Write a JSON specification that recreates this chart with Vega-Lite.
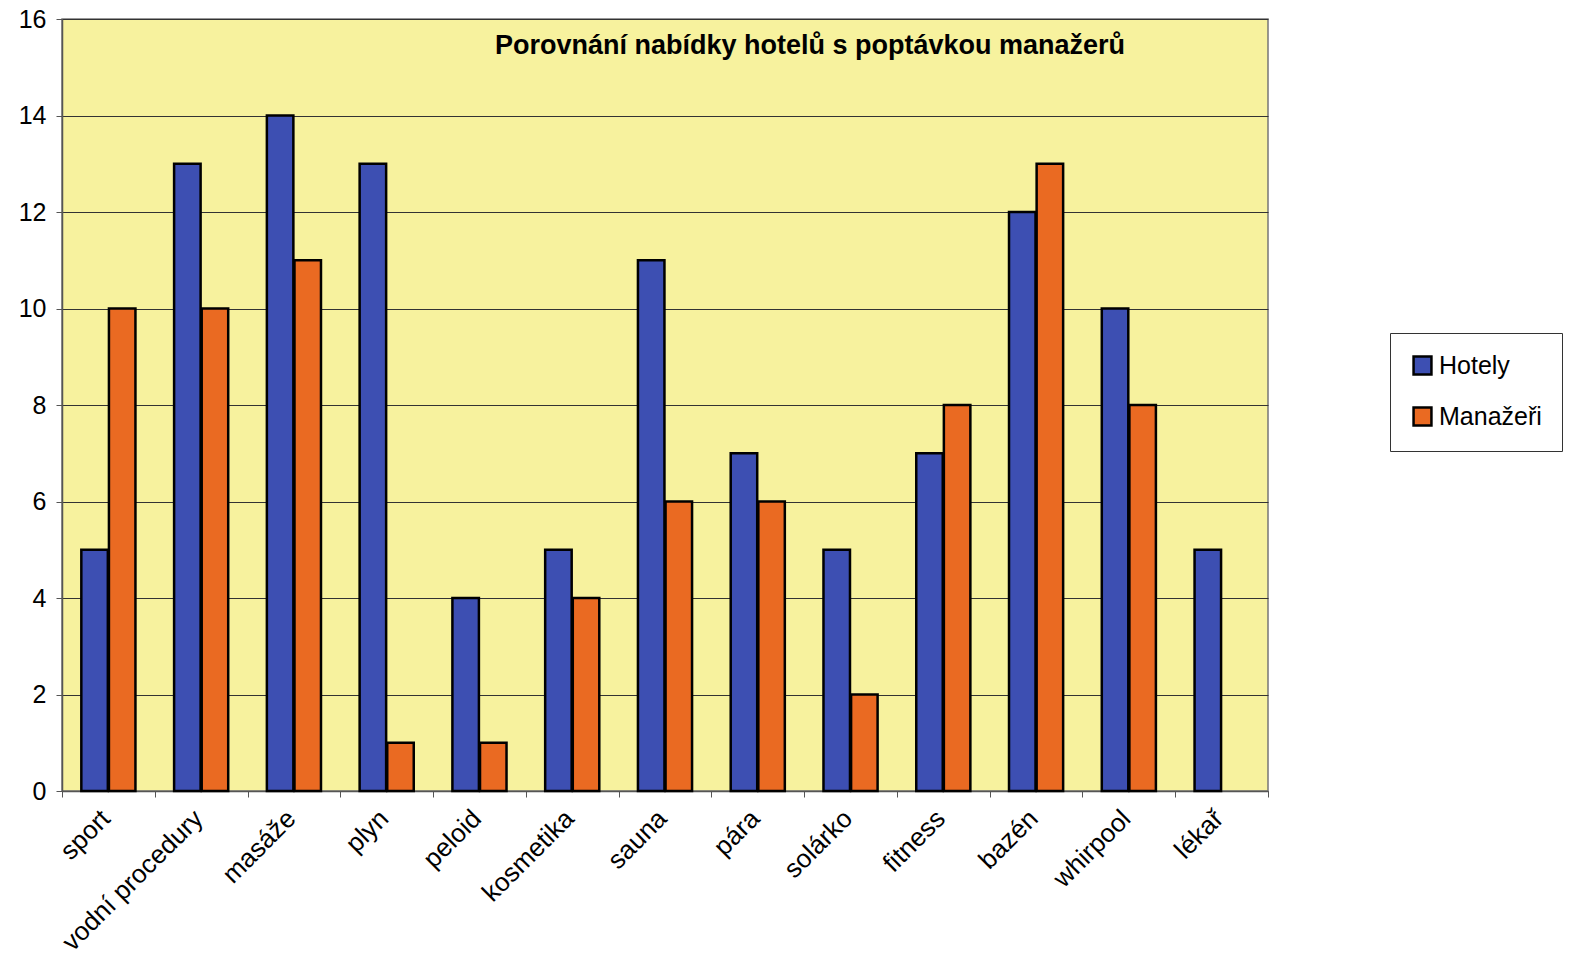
{
  "$schema": "https://vega.github.io/schema/vega-lite/v6.json",
  "autosize": {"type": "none"},
  "width": 1206,
  "height": 772,
  "padding": {"left": 62, "top": 19, "right": 324, "bottom": 165},
  "background": "white",
  "title": {
    "text": "Porovnání nabídky hotelů s poptávkou manažerů",
    "anchor": "middle",
    "orient": "top",
    "frame": "group",
    "offset": -53,
    "dx": 145,
    "font": "Liberation Sans",
    "fontSize": 27,
    "fontWeight": "bold",
    "color": "black"
  },
  "data": {
    "values": [
      {"kategorie": "sport", "rada": "Hotely", "hodnota": 5},
      {"kategorie": "sport", "rada": "Manažeři", "hodnota": 10},
      {"kategorie": "vodní procedury", "rada": "Hotely", "hodnota": 13},
      {"kategorie": "vodní procedury", "rada": "Manažeři", "hodnota": 10},
      {"kategorie": "masáže", "rada": "Hotely", "hodnota": 14},
      {"kategorie": "masáže", "rada": "Manažeři", "hodnota": 11},
      {"kategorie": "plyn", "rada": "Hotely", "hodnota": 13},
      {"kategorie": "plyn", "rada": "Manažeři", "hodnota": 1},
      {"kategorie": "peloid", "rada": "Hotely", "hodnota": 4},
      {"kategorie": "peloid", "rada": "Manažeři", "hodnota": 1},
      {"kategorie": "kosmetika", "rada": "Hotely", "hodnota": 5},
      {"kategorie": "kosmetika", "rada": "Manažeři", "hodnota": 4},
      {"kategorie": "sauna", "rada": "Hotely", "hodnota": 11},
      {"kategorie": "sauna", "rada": "Manažeři", "hodnota": 6},
      {"kategorie": "pára", "rada": "Hotely", "hodnota": 7},
      {"kategorie": "pára", "rada": "Manažeři", "hodnota": 6},
      {"kategorie": "solárko", "rada": "Hotely", "hodnota": 5},
      {"kategorie": "solárko", "rada": "Manažeři", "hodnota": 2},
      {"kategorie": "fitness", "rada": "Hotely", "hodnota": 7},
      {"kategorie": "fitness", "rada": "Manažeři", "hodnota": 8},
      {"kategorie": "bazén", "rada": "Hotely", "hodnota": 12},
      {"kategorie": "bazén", "rada": "Manažeři", "hodnota": 13},
      {"kategorie": "whirpool", "rada": "Hotely", "hodnota": 10},
      {"kategorie": "whirpool", "rada": "Manažeři", "hodnota": 8},
      {"kategorie": "lékař", "rada": "Hotely", "hodnota": 5}
    ]
  },
  "mark": {"type": "bar", "stroke": "black", "strokeWidth": 2.5},
  "encoding": {
    "x": {
      "field": "kategorie",
      "type": "nominal",
      "sort": null,
      "scale": {"paddingInner": 0, "paddingOuter": 0},
      "axis": {
        "title": null,
        "labelAngle": -45,
        "labelFont": "Liberation Sans",
        "labelFontSize": 26,
        "labelColor": "black",
        "labelPadding": 8,
        "labelOffset": -12,
        "labelLimit": 0,
        "labelOverlap": false,
        "tickBand": "extent",
        "tickColor": "#555555",
        "tickSize": 6,
        "domainColor": "#555555",
        "domainWidth": 1.5,
        "grid": false
      }
    },
    "xOffset": {
      "field": "rada",
      "type": "nominal",
      "scale": {"paddingInner": 0.04, "paddingOuter": 0.7}
    },
    "y": {
      "field": "hodnota",
      "type": "quantitative",
      "scale": {"domain": [0, 16], "nice": false},
      "axis": {
        "title": null,
        "values": [0, 2, 4, 6, 8, 10, 12, 14, 16],
        "labelFont": "Liberation Sans",
        "labelFontSize": 25,
        "labelColor": "black",
        "labelPadding": 10,
        "tickColor": "#555555",
        "tickSize": 6,
        "domainColor": "#555555",
        "domainWidth": 1.5,
        "grid": true,
        "gridColor": "#333333",
        "gridWidth": 1
      }
    },
    "color": {
      "field": "rada",
      "type": "nominal",
      "scale": {"domain": ["Hotely", "Manažeři"], "range": ["#3d4fb2", "#ea6a22"]},
      "legend": {
        "title": null,
        "orient": "none",
        "legendX": 1328,
        "legendY": 314,
        "fillColor": "white",
        "strokeColor": "#333333",
        "padding": 20,
        "rowPadding": 22,
        "symbolType": "square",
        "symbolSize": 320,
        "symbolStrokeColor": "black",
        "symbolStrokeWidth": 2.5,
        "symbolOpacity": 1,
        "labelFont": "Liberation Sans",
        "labelFontSize": 25,
        "labelColor": "black",
        "labelOffset": 4
      }
    }
  },
  "config": {
    "view": {"fill": "#f7f29e", "stroke": "#777777", "strokeWidth": 1.5}
  }
}
